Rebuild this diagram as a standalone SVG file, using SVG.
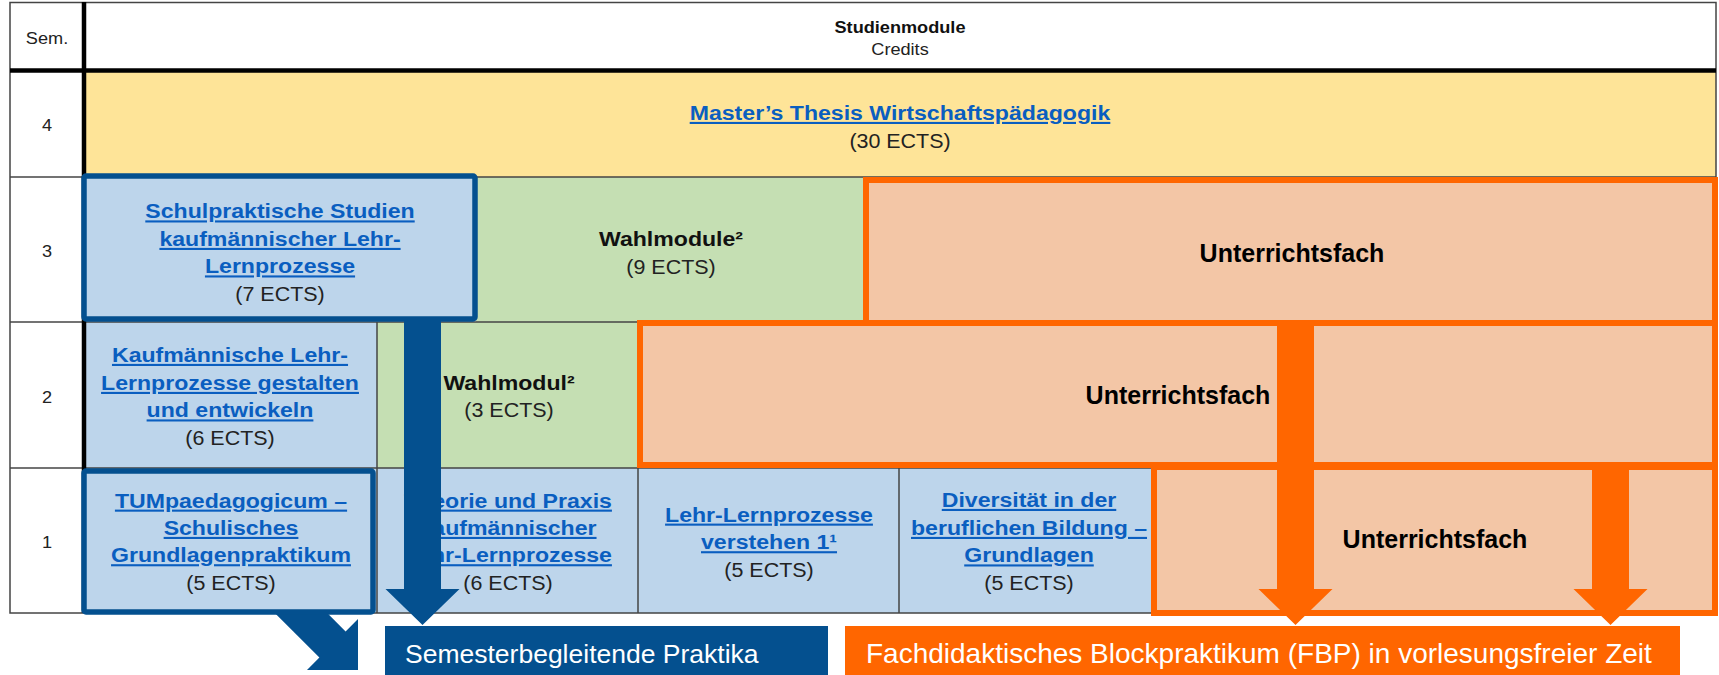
<svg xmlns="http://www.w3.org/2000/svg" width="1719" height="675" viewBox="0 0 1719 675">
<style>
text{font-family:"Liberation Sans",Arial,Helvetica,sans-serif;}
.lk{font-size:21px;font-weight:bold;fill:#0A5EC0;text-decoration:underline;text-anchor:middle;}
.cr{font-size:19.5px;fill:#222;text-anchor:middle;}
.bd{font-size:21px;font-weight:bold;fill:#111;text-anchor:middle;}
.hd{font-size:16.5px;fill:#222;text-anchor:middle;}
.hb{font-size:16.5px;font-weight:bold;fill:#111;text-anchor:middle;}
.uf{font-size:25px;font-weight:bold;fill:#000;text-anchor:middle;}
.lb{font-size:26.5px;fill:#fff;}
.thin{stroke:#444;stroke-width:1.5;fill:none;}
.thick{stroke:#000;stroke-width:4.5;fill:none;}
.bluebox{fill:#BDD5EB;stroke:#04508F;stroke-width:5.5;}
.orbox{fill:#F3C6A6;stroke:#FF6600;stroke-width:6;}
.barrow{fill:#04508F;}
.oarrow{fill:#FF6600;}
</style>
<rect x="0" y="0" width="1719" height="675" fill="#fff"/>

<g id="table">
  <rect x="84" y="72" width="1632" height="105" fill="#FEE498"/>
  <rect x="476" y="177" width="390" height="145" fill="#C5DFB3"/>
  <rect x="84" y="322" width="293" height="146" fill="#BDD5EB"/>
  <rect x="377" y="322" width="263" height="146" fill="#C5DFB3"/>
  <rect x="84" y="468" width="1067" height="145" fill="#BDD5EB"/>
  <rect class="thin" x="10" y="2.5" width="1706" height="610.5"/>
  <line class="thin" x1="10" y1="177" x2="1716" y2="177"/>
  <line class="thin" x1="10" y1="322" x2="866" y2="322"/>
  <line class="thin" x1="10" y1="468" x2="1151" y2="468"/>
  <line class="thin" x1="377" y1="322" x2="377" y2="613"/>
  <line class="thin" x1="638" y1="468" x2="638" y2="613"/>
  <line class="thin" x1="899" y1="468" x2="899" y2="613"/>
  <line class="thick" x1="84" y1="2" x2="84" y2="613"/>
  <line class="thick" x1="10" y1="70.5" x2="1716" y2="70.5"/>
</g>

<g id="sem-header" transform="translate(47,0) scale(1.1,1)">
  <text class="hd" x="0" y="44">Sem.</text>
  <text class="hd" x="0" y="131">4</text>
  <text class="hd" x="0" y="257">3</text>
  <text class="hd" x="0" y="403">2</text>
  <text class="hd" x="0" y="548">1</text>
</g>

<g id="header" transform="translate(900,0) scale(1.1,1)">
  <text class="hb" x="0" y="33">Studienmodule</text>
  <text class="hd" x="0" y="55">Credits</text>
</g>

<g id="thesis" transform="translate(900,0) scale(1.1,1)">
  <text class="lk" x="0" y="120">Master’s Thesis Wirtschaftspädagogik</text>
  <text class="cr" x="0" y="148">(30 ECTS)</text>
</g>

<g id="wahlmodule-3" transform="translate(671,0) scale(1.1,1)">
  <text class="bd" x="0" y="246">Wahlmodule²</text>
  <text class="cr" x="0" y="274">(9 ECTS)</text>
</g>

<g id="kaufm-lehr" transform="translate(230,0) scale(1.1,1)">
  <text class="lk" x="0" y="362">Kaufmännische Lehr-</text>
  <text class="lk" x="0" y="390">Lernprozesse gestalten</text>
  <text class="lk" x="0" y="417.5">und entwickeln</text>
  <text class="cr" x="0" y="445">(6 ECTS)</text>
</g>

<g id="wahlmodul-2" transform="translate(509,0) scale(1.1,1)">
  <text class="bd" x="0" y="390">Wahlmodul²</text>
  <text class="cr" x="0" y="417.5">(3 ECTS)</text>
</g>

<g id="theorie" transform="translate(508,0) scale(1.1,1)">
  <text class="lk" x="0" y="507.7">Theorie und Praxis</text>
  <text class="lk" x="0" y="535">kaufmännischer</text>
  <text class="lk" x="0" y="562.3">Lehr-Lernprozesse</text>
  <text class="cr" x="0" y="590">(6 ECTS)</text>
</g>

<g id="lehr-lern-verstehen" transform="translate(769,0) scale(1.1,1)">
  <text class="lk" x="0" y="521.7">Lehr-Lernprozesse</text>
  <text class="lk" x="0" y="549.3">verstehen 1¹</text>
  <text class="cr" x="0" y="577">(5 ECTS)</text>
</g>

<g id="diversitaet" transform="translate(1029,0) scale(1.1,1)">
  <text class="lk" x="0" y="507">Diversität in der</text>
  <text class="lk" x="0" y="535">beruflichen Bildung –</text>
  <text class="lk" x="0" y="562.5">Grundlagen</text>
  <text class="cr" x="0" y="590">(5 ECTS)</text>
</g>

<g id="schulpraktische">
  <rect class="bluebox" x="84" y="176" width="391" height="143" rx="2"/>
  <g transform="translate(280,0) scale(1.1,1)">
    <text class="lk" x="0" y="218.5">Schulpraktische Studien</text>
    <text class="lk" x="0" y="246">kaufmännischer Lehr-</text>
    <text class="lk" x="0" y="273.5">Lernprozesse</text>
    <text class="cr" x="0" y="301">(7 ECTS)</text>
  </g>
</g>

<g id="unterrichtsfach-3">
  <rect class="orbox" x="866" y="180" width="849" height="143"/>
  <text class="uf" x="1292" y="262">Unterrichtsfach</text>
</g>

<g id="unterrichtsfach-2">
  <rect class="orbox" x="640" y="323" width="1075" height="142"/>
  <text class="uf" x="1178" y="404">Unterrichtsfach</text>
</g>

<g id="unterrichtsfach-1">
  <rect class="orbox" x="1154" y="467" width="561" height="146"/>
  <text class="uf" x="1435" y="548">Unterrichtsfach</text>
</g>

<g id="connectors">
  <polygon class="barrow" points="274.8,613 327.2,613 345.6,631.4 358,619 358,670 307,670 319.4,657.6"/>
  <polygon class="barrow" points="404,321 441,321 441,589 459.5,589 422.5,625 385.5,589 404,589"/>
  <polygon class="oarrow" points="1277,322 1314,322 1314,589 1332.5,589 1295.5,625 1258.5,589 1277,589"/>
  <polygon class="oarrow" points="1592,467 1629,467 1629,589 1647.5,589 1610.5,625 1573.5,589 1592,589"/>
</g>

<g id="tumpaedagogicum">
  <rect class="bluebox" x="84" y="471" width="289" height="141" rx="2"/>
  <g transform="translate(231,0) scale(1.1,1)">
    <text class="lk" x="0" y="507.7">TUMpaedagogicum –</text>
    <text class="lk" x="0" y="535">Schulisches</text>
    <text class="lk" x="0" y="562.3">Grundlagenpraktikum</text>
    <text class="cr" x="0" y="590">(5 ECTS)</text>
  </g>
</g>

<g id="label-semesterbegleitend">
  <rect x="385" y="626" width="443" height="49" fill="#04508F"/>
  <text class="lb" x="405" y="663">Semesterbegleitende Praktika</text>
</g>

<g id="label-fbp">
  <rect x="845" y="626" width="835" height="49" fill="#FF6600"/>
  <text class="lb" x="866" y="663" style="font-size:28px">Fachdidaktisches Blockpraktikum (FBP) in vorlesungsfreier Zeit</text>
</g>
</svg>
